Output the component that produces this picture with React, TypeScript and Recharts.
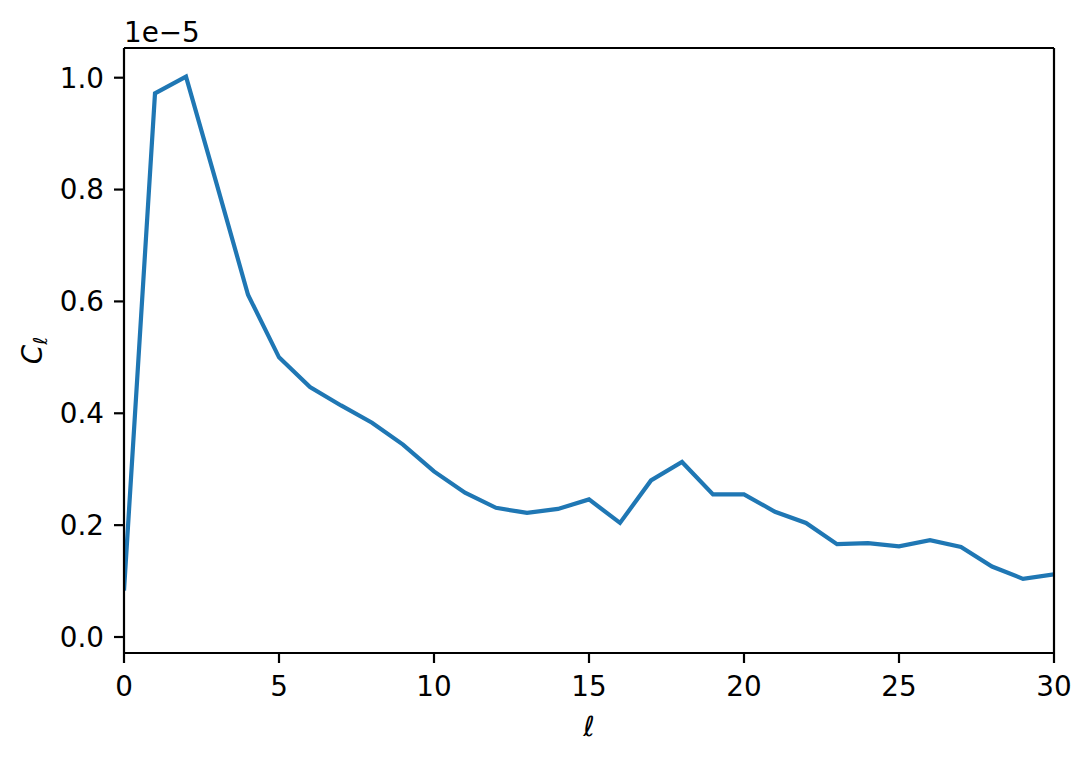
import React from 'react';
import { LineChart, Line, XAxis, YAxis, Customized } from 'recharts';

const ells: number[] = [0, 1, 2, 3, 4, 5, 6, 7, 8, 9, 10, 11, 12, 13, 14, 15, 16, 17, 18, 19, 20, 21, 22, 23, 24, 25, 26, 27, 28, 29, 30];
const clValues: number[] = [0.083, 0.972, 1.002, 0.808, 0.612, 0.5, 0.447, 0.414, 0.383, 0.344, 0.296, 0.258, 0.231, 0.222, 0.229, 0.246, 0.204, 0.28, 0.313, 0.255, 0.255, 0.224, 0.204, 0.166, 0.168, 0.162, 0.173, 0.161, 0.126, 0.104, 0.112];
const xTicks: number[] = [0, 5, 10, 15, 20, 25, 30];
const yTicks: number[] = [0, 0.2, 0.4, 0.6, 0.8, 1.0];
const offsetText = '1e\u22125';

const data = ells.map((l, i) => ({ ell: l, cl: clValues[i] }));

const W = 1091;
const H = 760;
const LEFT = 124;
const TOP = 48;
const RIGHT = 1054;
const BOTTOM = 653;
const FONT = "'DejaVu Sans', sans-serif";
const FS = 27.8;

const Extras = () => (
  <g style={{ fontFamily: FONT }}>
    <text x={LEFT} y={42} fontSize={FS} fill="#000" style={{ fontFamily: FONT }}>{offsetText}</text>
    <text
      x={42}
      y={(TOP + BOTTOM) / 2}
      transform={`rotate(-90, 42, ${(TOP + BOTTOM) / 2})`}
      textAnchor="middle"
      fontSize={FS}
      fill="#000"
      style={{ fontFamily: FONT }}
    >
      <tspan fontStyle="italic">C</tspan>
      <tspan fontStyle="italic" fontSize={FS * 0.7} dy={5}>{'\u2113'}</tspan>
    </text>
    <text x={(LEFT + RIGHT) / 2} y={736} textAnchor="middle" fontSize={FS} fontStyle="italic" fill="#000" style={{ fontFamily: FONT }}>{'\u2113'}</text>
  </g>
);

export default function App() {
  const tickStyle = { fontSize: FS, fill: '#000', fontFamily: FONT };
  return (
    <div style={{ position: 'absolute', left: 0, top: 0, width: W, height: H, background: '#fff', fontFamily: FONT }}>
      <LineChart width={W} height={H} data={data} margin={{ top: 0, right: 0, bottom: 0, left: 0 }} style={{ fontFamily: FONT }}>
        <XAxis
          dataKey="ell"
          type="number"
          domain={[0, 30]}
          ticks={xTicks}
          allowDataOverflow
          height={H - BOTTOM}
          tickSize={10}
          tickMargin={13}
          tick={tickStyle}
          stroke="#000"
          strokeWidth={2.2}
          interval={0}
        />
        <XAxis
          xAxisId="top"
          orientation="top"
          type="number"
          domain={[0, 30]}
          height={TOP}
          tick={false}
          tickLine={false}
          stroke="#000"
          strokeWidth={2.2}
        />
        <YAxis
          type="number"
          domain={[-0.0286, 1.0531]}
          ticks={yTicks}
          allowDataOverflow
          width={LEFT}
          tickSize={10}
          tickMargin={10}
          tick={tickStyle}
          tickFormatter={(v: number) => v.toFixed(1)}
          stroke="#000"
          strokeWidth={2.2}
          interval={0}
        />
        <YAxis
          yAxisId="right"
          orientation="right"
          type="number"
          domain={[0, 1]}
          width={W - RIGHT}
          tick={false}
          tickLine={false}
          stroke="#000"
          strokeWidth={2.2}
        />
        <Line
          type="linear"
          dataKey="cl"
          stroke="#1f77b4"
          strokeWidth={4.2}
          dot={false}
          activeDot={false}
          isAnimationActive={false}
        />
        <Customized component={Extras} />
      </LineChart>
    </div>
  );
}
